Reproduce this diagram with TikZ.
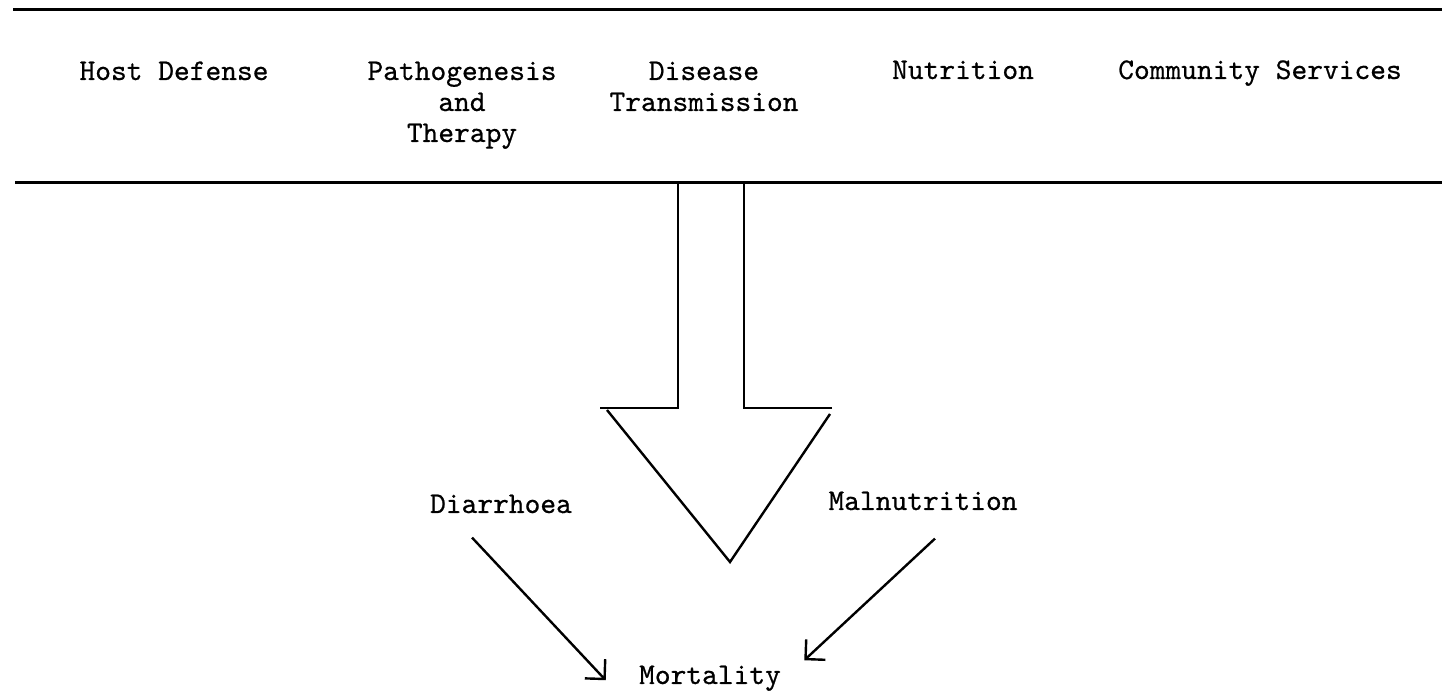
\documentclass[tikz,border=0pt]{standalone}
\usepackage{fontspec}
\newfontfamily\tw{lmmono10-regular}[Extension=.otf,FakeBold=0.6]
\usetikzlibrary{arrows.meta}
\begin{document}
\begin{tikzpicture}[x=0.5pt,y=-0.5pt,
  lbl/.style={font=\tw\fontsize{15}{15.5}\selectfont, inner sep=0pt, anchor=base, align=center},
  rule/.style={line width=1.5pt},
  bigarrow/.style={line width=1.2pt, line join=miter},
  link/.style={line width=1.2pt, -{Straight Barb[length=7pt,width=14pt]}}]
\useasboundingbox (0,0) rectangle (1442,699);
% header rules
\draw[rule] (13,10) -- (1442,10);
\draw[rule] (15,183) -- (1442,183);
% header labels (base anchor = baseline of the last line)
\node[lbl] (host) at (174,80) {Host Defense};
\node[lbl] (path) at (462,142) {Pathogenesis\\and\\Therapy};
\node[lbl] (dis) at (704,111) {Disease\\Transmission};
\node[lbl] (nut) at (963,79) {Nutrition};
\node[lbl] (com) at (1260,79) {Community Services};
% big hollow arrow
\draw[bigarrow] (678,183) -- (678,408) -- (600,408);
\draw[bigarrow] (607,410) -- (730,562) -- (830,414);
\draw[bigarrow] (832,408) -- (744,408) -- (744,183);
% lower labels
\node[lbl] (d) at (501,513) {Diarrhoea};
\node[lbl] (mal) at (923,510) {Malnutrition};
\node[lbl] (m) at (710,684) {Mortality};
% connectors
\draw[link] ([shift={(-29,24)}]d.south) -- ([shift={(-33,2)}]m.west);
\draw[link] ([shift={(12,28)}]mal.south) -- ([shift={(23,-18)}]m.east);
\end{tikzpicture}
\end{document}
